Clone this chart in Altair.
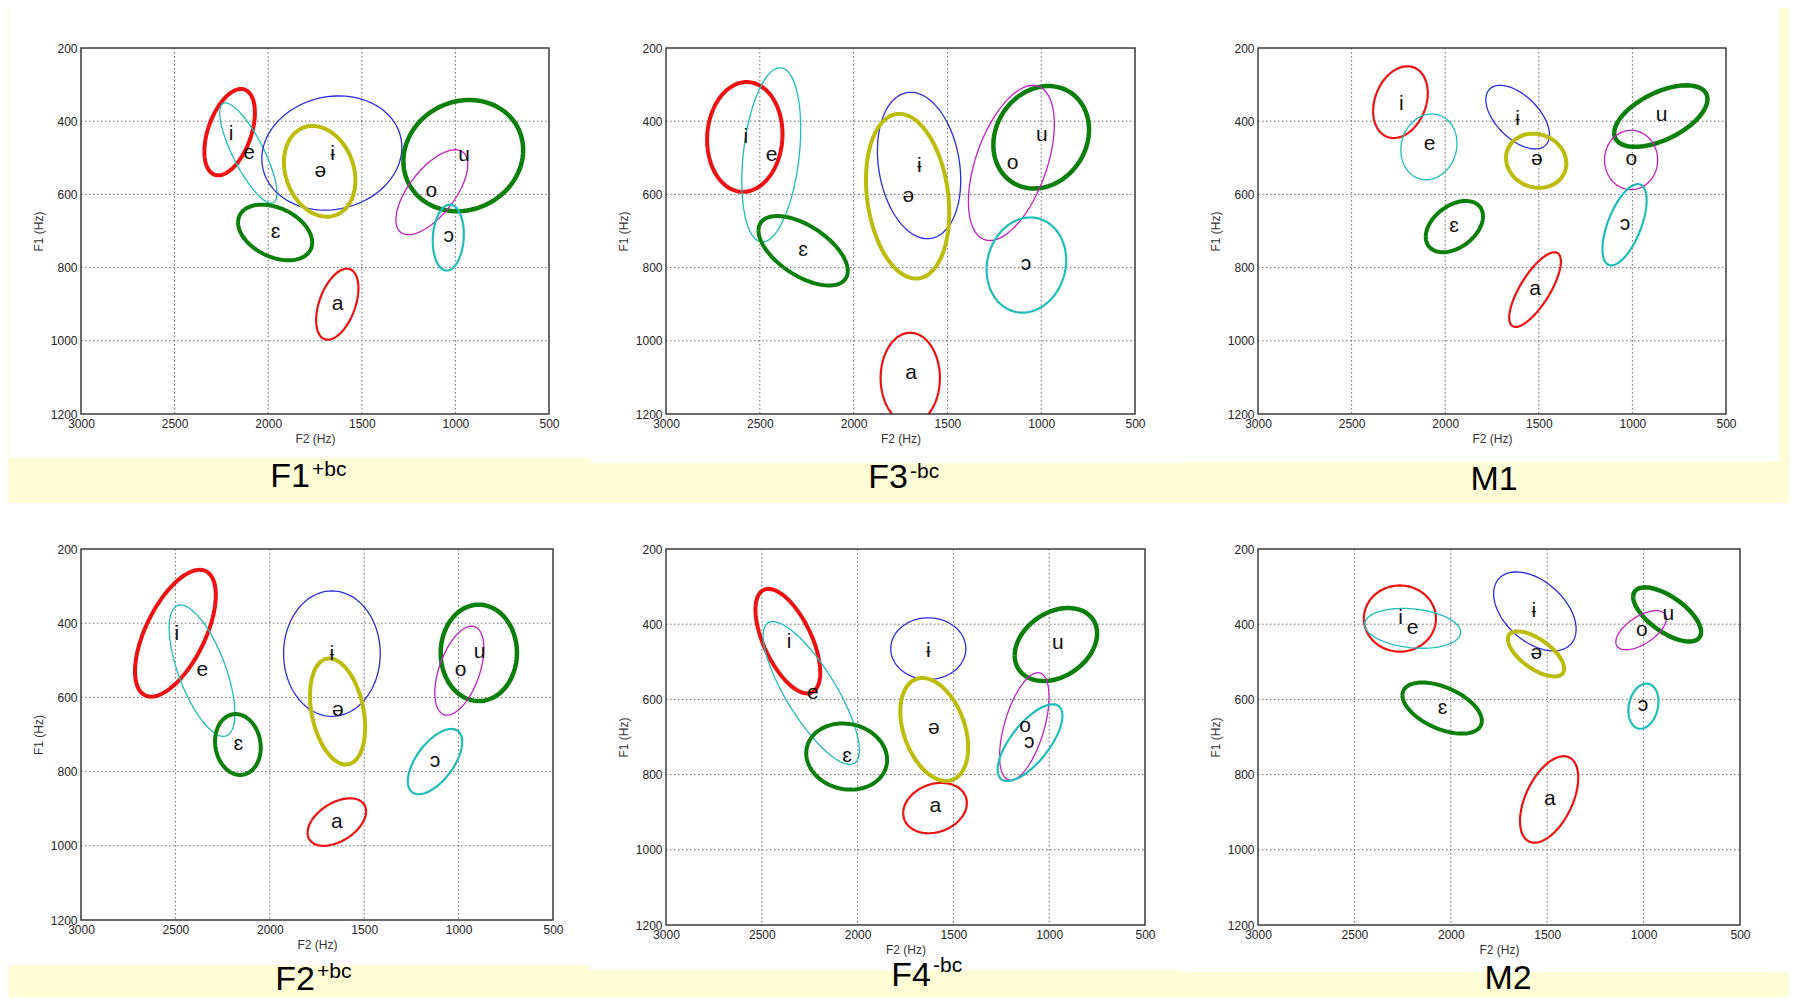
import math
import altair as alt
import pandas as pd

YELLOW = "#fffdd6"
FONT = "Liberation Sans"

VOWELS = ["i", "e", "ɛ", "a", "ɨ", "ə", "u", "o", "ɔ"]
COLOURS = ["#ee1111", "#1fbcbc", "#0b7f0b", "#ee1111", "#2b2be0",
           "#bcbc0c", "#0b7f0b", "#c020c0", "#1fbcbc"]

F2_TICKS = [3000, 2500, 2000, 1500, 1000, 500]
F1_TICKS = [200, 400, 600, 800, 1000, 1200]
F2_GRID = [2500, 2000, 1500, 1000]
F1_GRID = [400, 600, 800, 1000]

# ---- F1+bc ----
F1BC_CX = [2206, 2106, 1963, 1631, 1660, 1725, 958, 1126, 1038]
F1BC_CY = [430, 487, 704, 900, 487, 537, 494, 594, 718]
F1BC_RX = [135, 153, 198, 113, 374, 191, 320, 192, 83]
F1BC_RY = [118, 137, 76, 97, 156, 124, 152, 116, 90]
F1BC_TILT = [0.45, -0.8, -0.36, 0.45, 0.1, -0.2, 0.1, 0.65, 0.1]
F1BC_W = [4, 1.3, 4, 2.2, 1.3, 4, 4.5, 1.3, 2.2]
F1BC_LX = [2198, 2102, 1961, 1629, 1656, 1721, 954, 1128, 1036]
F1BC_LY = [434, 486, 704, 899, 489, 536, 491, 592, 715]

# ---- F3-bc ----
F3BC_CX = [2580, 2439, 2269, 1698, 1651, 1712, 1000, 1159, 1079]
F3BC_CY = [443, 492, 754, 1102, 521, 605, 444, 514, 793]
F3BC_RX = [201, 157, 238, 158, 222, 222, 255, 229, 212]
F3BC_RY = [150, 238, 95, 124, 200, 225, 140, 212, 130]
F3BC_TILT = [0.05, 0.3, -0.58, 0.0, -0.2, -0.2, 0.15, 0.5, 0.1]
F3BC_W = [4, 1.3, 4, 2.2, 1.3, 4, 4.5, 1.3, 2.2]
F3BC_LX = [2575, 2437, 2269, 1694, 1649, 1708, 996, 1153, 1081]
F3BC_LY = [444, 491, 752, 1087, 522, 604, 439, 513, 791]

# ---- M1 ----
M1_CX = [2239, 2087, 1951, 1520, 1613, 1514, 848, 1007, 1042]
M1_CY = [348, 470, 688, 860, 389, 508, 386, 506, 683]
M1_RX = [146, 150, 153, 138, 170, 161, 249, 142, 118]
M1_RY = [98, 90, 70, 102, 87, 74, 84, 81, 111]
M1_TILT = [0.25, 0.1, 0.4, 0.75, -0.55, -0.1, 0.55, 0.0, 0.6]
M1_W = [2.2, 1.3, 4, 2.2, 1.3, 4, 4.5, 1.3, 2.2]
M1_LX = [2235, 2083, 1953, 1520, 1613, 1510, 844, 1005, 1040]
M1_LY = [352, 462, 685, 858, 393, 504, 384, 503, 680]

# ---- F2+bc ----
F2BC_CX = [2500, 2359, 2169, 1645, 1671, 1641, 893, 996, 1125]
F2BC_CY = [427, 528, 727, 936, 482, 638, 480, 528, 773]
F2BC_RX = [214, 174, 121, 155, 256, 146, 202, 130, 144]
F2BC_RY = [171, 177, 82, 64, 169, 143, 130, 120, 88]
F2BC_TILT = [0.6, -0.65, -0.1, 0.45, 0.0, -0.3, 0.0, 0.5, 0.6]
F2BC_W = [4, 1.3, 4, 2.2, 1.3, 4, 4.5, 1.3, 2.2]
F2BC_LX = [2492, 2357, 2167, 1645, 1671, 1639, 889, 990, 1125]
F2BC_LY = [428, 527, 726, 935, 482, 634, 477, 527, 771]

# ---- F4-bc ----
F4BC_CX = [2364, 2242, 2057, 1596, 1631, 1600, 965, 1130, 1100]
F4BC_CY = [445, 583, 752, 889, 465, 680, 454, 672, 715]
F4BC_RX = [169, 251, 211, 166, 196, 177, 215, 129, 169]
F4BC_RY = [139, 190, 88, 67, 82, 137, 97, 143, 102]
F4BC_TILT = [-0.6, -0.8, -0.1, 0.2, 0.0, -0.35, 0.3, 0.55, 0.7]
F4BC_W = [4, 1.3, 4, 2.2, 1.3, 4, 4.5, 1.3, 2.2]
F4BC_LX = [2358, 2234, 2055, 1594, 1631, 1602, 955, 1126, 1104]
F4BC_LY = [448, 582, 751, 884, 470, 677, 451, 671, 712]

# ---- M2 ----
M2_CX = [2264, 2198, 2045, 1490, 1564, 1558, 878, 1013, 1001]
M2_CY = [385, 411, 623, 866, 366, 479, 374, 416, 618]
M2_RX = [187, 249, 206, 151, 214, 146, 176, 131, 78]
M2_RY = [88, 53, 68, 115, 105, 60, 72, 52, 60]
M2_TILT = [0.0, -0.2, -0.5, 0.5, -0.45, -0.65, -0.65, 0.6, 0.2]
M2_W = [2.2, 1.3, 4, 2.2, 1.3, 4, 4.5, 1.3, 2.2]
M2_LX = [2260, 2198, 2043, 1486, 1570, 1556, 872, 1009, 1003]
M2_LY = [384, 409, 622, 864, 366, 477, 372, 415, 615]

ONE = pd.DataFrame({"k": [0]})


def x_enc(field):
    return alt.X(f"{field}:Q",
                 scale=alt.Scale(domain=[500, 3000], reverse=True, nice=False, zero=False),
                 axis=alt.Axis(values=F2_TICKS, title="F2 (Hz)", grid=False, domain=False,
                               ticks=False, labelFlush=False, labelOverlap=False,
                               labelPadding=4, titlePadding=4, labelFontSize=12,
                               titleFontSize=12, labelColor="#222", titleColor="#333",
                               labelFont=FONT, titleFont=FONT, titleFontWeight="normal",
                               format="d", zindex=1))


def y_enc(field):
    return alt.Y(f"{field}:Q",
                 scale=alt.Scale(domain=[200, 1200], reverse=True, nice=False, zero=False),
                 axis=alt.Axis(values=F1_TICKS, title="F1 (Hz)", grid=False, domain=False,
                               ticks=False, labelFlush=False, labelOverlap=False,
                               labelPadding=4, titlePadding=5, labelFontSize=12,
                               titleFontSize=12, labelColor="#222", titleColor="#333",
                               labelFont=FONT, titleFont=FONT, titleFontWeight="normal",
                               format="d", zindex=1))


def panel(cx, cy, rx, ry, tilt, widths, lx, ly, w, h, white, title, big_bg=None):
    rows = []
    n = 96
    for k in range(len(VOWELS)):
        phi = math.asin(tilt[k])
        for j in range(n + 1):
            t = 2 * math.pi * j / n
            rows.append({"v": k, "ord": j,
                         "f2": cx[k] + rx[k] * math.cos(t),
                         "f1": cy[k] + ry[k] * math.sin(t + phi),
                         "col": COLOURS[k], "w": widths[k]})
    ell = pd.DataFrame(rows)
    labs = pd.DataFrame({"f2": lx, "f1": ly, "lab": VOWELS})

    layers = []
    if big_bg is not None:
        layers.append(alt.Chart(ONE).mark_rect(color=YELLOW).encode(
            x=alt.value(big_bg[0]), x2=alt.value(big_bg[1]),
            y=alt.value(big_bg[2]), y2=alt.value(big_bg[3])))
    layers.append(alt.Chart(ONE).mark_rect(color="white").encode(
        x=alt.value(white[0]), x2=alt.value(white[1]),
        y=alt.value(white[2]), y2=alt.value(white[3])))
    layers.append(alt.Chart(pd.DataFrame({"f2": F2_GRID})).mark_rule(
        color="#6a6a6a", strokeWidth=1, strokeDash=[1.5, 2.5]).encode(
        x=x_enc("f2"), y=alt.value(0), y2=alt.value(h)))
    layers.append(alt.Chart(pd.DataFrame({"f1": F1_GRID})).mark_rule(
        color="#6a6a6a", strokeWidth=1, strokeDash=[1.5, 2.5]).encode(
        y=y_enc("f1"), x=alt.value(0), x2=alt.value(w)))
    layers.append(alt.Chart(ell).mark_line(clip=True).encode(
        x=x_enc("f2"), y=y_enc("f1"), detail="v:N", order="ord:Q",
        color=alt.Color("col:N", scale=None),
        strokeWidth=alt.StrokeWidth("w:Q", scale=None)))
    layers.append(alt.Chart(labs).mark_text(font=FONT, fontSize=21, color="#111",
                                            baseline="middle", align="center").encode(
        x=x_enc("f2"), y=y_enc("f1"), text="lab:N"))
    layers.append(alt.Chart(ONE).mark_rect(fillOpacity=0, stroke="#3a3a3a", strokeWidth=1.5).encode(
        x=alt.value(0), x2=alt.value(w), y=alt.value(0), y2=alt.value(h)))
    main, sup, tx, ty, sy = title
    if sup:
        layers.append(alt.Chart(ONE).mark_text(font=FONT, fontSize=34, color="black",
                                               align="right", baseline="alphabetic").encode(
            x=alt.value(tx), y=alt.value(ty), text=alt.value(main)))
        layers.append(alt.Chart(ONE).mark_text(font=FONT, fontSize=21, color="black",
                                               align="left", baseline="alphabetic").encode(
            x=alt.value(tx + 2), y=alt.value(sy), text=alt.value(sup)))
    else:
        layers.append(alt.Chart(ONE).mark_text(font=FONT, fontSize=34, color="black",
                                               align="center", baseline="alphabetic").encode(
            x=alt.value(tx), y=alt.value(ty), text=alt.value(main)))
    return alt.layer(*layers).properties(width=w, height=h)


# plot-area origins (page): col1 81, col2 666, col3 1258; row1 48, row2 549
p1 = panel(F1BC_CX, F1BC_CY, F1BC_RX, F1BC_RY, F1BC_TILT, F1BC_W, F1BC_LX, F1BC_LY,
           468, 366, (-72, 510, -40, 410), ("F1", "+bc", 229, 439, 428),
           big_bg=(-73, 1708, -40, 942))
p2 = panel(F3BC_CX, F3BC_CY, F3BC_RX, F3BC_RY, F3BC_TILT, F3BC_W, F3BC_LX, F3BC_LY,
           469, 366, (-75, 519, -40, 415), ("F3", "-bc", 242, 440, 430))
p3 = panel(M1_CX, M1_CY, M1_RX, M1_RY, M1_TILT, M1_W, M1_LX, M1_LY,
           468, 366, (-73, 521, -40, 414), ("M1", "", 236, 442, 0))
p4 = panel(F2BC_CX, F2BC_CY, F2BC_RX, F2BC_RY, F2BC_TILT, F2BC_W, F2BC_LX, F2BC_LY,
           472, 371, (-73, 509, -46, 416), ("F2", "+bc", 234, 441, 429))
p5 = panel(F4BC_CX, F4BC_CY, F4BC_RX, F4BC_RY, F4BC_TILT, F4BC_W, F4BC_LX, F4BC_LY,
           479, 376, (-76, 514, -46, 421), ("F4", "-bc", 265, 437, 423))
p6 = panel(M2_CX, M2_CY, M2_RX, M2_RY, M2_TILT, M2_W, M2_LX, M2_LY,
           482, 376, (-78, 531, -46, 423), ("M2", "", 250, 440, 0))

chart = alt.concat(p1, p2, p3, p4, p5, p6, columns=3,
                   spacing={"row": 135, "column": 113}, bounds="flush").properties(
    padding=0, background=YELLOW
).configure_view(strokeWidth=0)

chart.save("out.html", embed_options={"renderer": "svg", "actions": False})
